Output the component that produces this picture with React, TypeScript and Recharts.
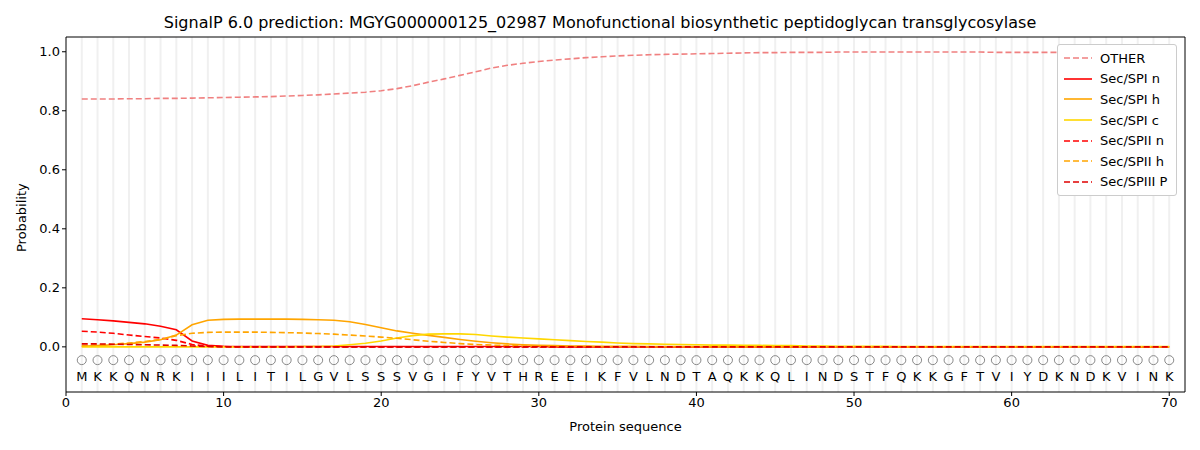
import { ComposedChart, Line, Scatter, XAxis, YAxis, ReferenceLine } from "recharts";

const residues = "MKKQNRKIIILITILGVLSSSVGIFYVTHREEIKFVLNDTAQKKQLINDSTFQKKGFTVIYDKNDKVINK".split("");

const other = [
  0.84, 0.84, 0.84, 0.841, 0.841, 0.842, 0.842, 0.843, 0.844, 0.845,
  0.846, 0.847, 0.848, 0.85, 0.852, 0.854, 0.857, 0.86, 0.863, 0.868,
  0.875, 0.885, 0.897, 0.908, 0.92, 0.932, 0.945, 0.954, 0.961, 0.967,
  0.972, 0.976, 0.98, 0.983, 0.986, 0.988, 0.99, 0.991, 0.992, 0.993,
  0.994, 0.995, 0.996, 0.997, 0.997, 0.998, 0.998, 0.998, 0.999, 0.999,
  0.999, 0.999, 0.999, 0.999, 0.999, 0.999, 0.999, 0.999, 0.998, 0.998,
  0.998, 0.998, 0.998, 0.998, 0.998, 0.998, 0.998, 0.998, 0.998, 0.998,
];
const spiN = [
  0.095, 0.092, 0.088, 0.083, 0.078, 0.07, 0.058, 0.02, 0.005, 0.002,
  0.001, 0.001, 0.001, 0.001, 0.001, 0.001, 0.001, 0.001, 0.001, 0.001,
  0.001, 0.001, 0.001, 0.001, 0.001, 0.001, 0.001, 0.001, 0.001, 0.001,
  0, 0, 0, 0, 0, 0, 0, 0, 0, 0,
  0, 0, 0, 0, 0, 0, 0, 0, 0, 0,
  0, 0, 0, 0, 0, 0, 0, 0, 0, 0,
  0, 0, 0, 0, 0, 0, 0, 0, 0, 0,
];
const spiH = [
  0.002, 0.004, 0.007, 0.011, 0.016, 0.024, 0.04, 0.075, 0.09, 0.093,
  0.094, 0.094, 0.094, 0.094, 0.093, 0.092, 0.09, 0.085, 0.076, 0.065,
  0.054, 0.046, 0.039, 0.032, 0.025, 0.019, 0.014, 0.01, 0.007, 0.005,
  0.004, 0.003, 0.003, 0.002, 0.002, 0.002, 0.001, 0.001, 0.001, 0.001,
  0, 0, 0, 0, 0, 0, 0, 0, 0, 0,
  0, 0, 0, 0, 0, 0, 0, 0, 0, 0,
  0, 0, 0, 0, 0, 0, 0, 0, 0, 0,
];
const spiC = [
  0, 0, 0, 0, 0, 0, 0, 0, 0, 0,
  0, 0, 0, 0, 0.001, 0.001, 0.003, 0.007, 0.012, 0.02,
  0.03, 0.038, 0.043, 0.044, 0.044, 0.042, 0.037, 0.033, 0.03, 0.027,
  0.024, 0.021, 0.018, 0.016, 0.013, 0.011, 0.01, 0.009, 0.008, 0.007,
  0.006, 0.006, 0.005, 0.005, 0.004, 0.004, 0.003, 0.003, 0.002, 0.002,
  0.002, 0.002, 0.001, 0.001, 0.001, 0.001, 0.001, 0.001, 0.001, 0.001,
  0.001, 0.001, 0.001, 0.001, 0.001, 0.001, 0.001, 0.001, 0.001, 0.001,
];
const spiiN = [
  0.053, 0.05, 0.046, 0.04, 0.035, 0.03, 0.022, 0.008, 0.002, 0.001,
  0, 0, 0, 0, 0, 0, 0, 0, 0, 0,
  0, 0, 0, 0, 0, 0, 0, 0, 0, 0,
  0, 0, 0, 0, 0, 0, 0, 0, 0, 0,
  0, 0, 0, 0, 0, 0, 0, 0, 0, 0,
  0, 0, 0, 0, 0, 0, 0, 0, 0, 0,
  0, 0, 0, 0, 0, 0, 0, 0, 0, 0,
];
const spiiH = [
  0.004, 0.006, 0.009, 0.013, 0.018, 0.025, 0.038, 0.046, 0.049, 0.05,
  0.05, 0.05, 0.049, 0.048, 0.047, 0.045, 0.043, 0.04, 0.037, 0.033,
  0.029, 0.024, 0.019, 0.015, 0.011, 0.008, 0.006, 0.004, 0.003, 0.002,
  0.001, 0.001, 0.001, 0, 0, 0, 0, 0, 0, 0,
  0, 0, 0, 0, 0, 0, 0, 0, 0, 0,
  0, 0, 0, 0, 0, 0, 0, 0, 0, 0,
  0, 0, 0, 0, 0, 0, 0, 0, 0, 0,
];
const spiiiP = [
  0.01, 0.01, 0.009, 0.008, 0.007, 0.006, 0.005, 0.003, 0.001, 0,
  0, 0, 0, 0, 0, 0, 0, 0, 0, 0,
  0, 0, 0, 0, 0, 0, 0, 0, 0, 0,
  0, 0, 0, 0, 0, 0, 0, 0, 0, 0,
  0, 0, 0, 0, 0, 0, 0, 0, 0, 0,
  0, 0, 0, 0, 0, 0, 0, 0, 0, 0,
  0, 0, 0, 0, 0, 0, 0, 0, 0, 0,
];

const xTicks = [0, 10, 20, 30, 40, 50, 60, 70];
const yTicks = [0, 0.2, 0.4, 0.6, 0.8, 1.0];

const data = residues.map((aa, i) => ({
  pos: i + 1,
  aa,
  marker: -0.045,
  other: other[i],
  spiN: spiN[i],
  spiH: spiH[i],
  spiC: spiC[i],
  spiiN: spiiN[i],
  spiiH: spiiH[i],
  spiiiP: spiiiP[i],
}));

const font = "DejaVu Sans";

function Residue(props: any) {
  const { cx, cy, payload } = props;
  return (
    <g>
      <circle cx={cx} cy={cy} r={4.5} fill="none" stroke="#888" strokeWidth={1} />
      <text x={cx} y={cy + 21} textAnchor="middle" fontSize={13} fontFamily={font} fill="#000">
        {payload.aa}
      </text>
    </g>
  );
}

const series = [
  { key: "other", name: "OTHER", color: "#F08080", dash: "6 3" },
  { key: "spiN", name: "Sec/SPI n", color: "#FF0000", dash: undefined },
  { key: "spiH", name: "Sec/SPI h", color: "#FFA500", dash: undefined },
  { key: "spiC", name: "Sec/SPI c", color: "#FFD700", dash: undefined },
  { key: "spiiN", name: "Sec/SPII n", color: "#FF0000", dash: "6 3" },
  { key: "spiiH", name: "Sec/SPII h", color: "#FFA500", dash: "6 3" },
  { key: "spiiiP", name: "Sec/SPIII P", color: "#E00000", dash: "6 3" },
];

function LegendBox() {
  return (
    <div
      style={{
        position: "absolute",
        top: 44,
        left: 1057,
        width: 120,
        background: "#fff",
        border: "1px solid #ccc",
        borderRadius: 3,
        padding: "3px 0 3px 6px",
        fontSize: 13,
        boxSizing: "border-box",
      }}
    >
      {series.map((s) => (
        <div key={s.key} style={{ display: "flex", alignItems: "center", height: 20.6 }}>
          <svg width={28} height={10} style={{ marginRight: 8 }}>
            <line x1={0} y1={5} x2={28} y2={5} stroke={s.color} strokeWidth={1.6} strokeDasharray={s.dash} />
          </svg>
          <span>{s.name}</span>
        </div>
      ))}
    </div>
  );
}

export default function App() {
  return (
    <div style={{ position: "relative", width: 1200, height: 450, margin: -8, background: "#fff", fontFamily: font }}>
      <ComposedChart
        width={1200}
        height={450}
        data={data}
        margin={{ top: 37, right: 15, bottom: 28, left: 10 }}
        style={{ position: "absolute", top: 0, left: 0 }}
      >
        {data.map((d) => (
          <ReferenceLine key={d.pos} x={d.pos} stroke="#f0f0f0" strokeWidth={2} />
        ))}
        <XAxis
          dataKey="pos"
          type="number"
          domain={[0, 71]}
          ticks={xTicks}
          stroke="#000"
          tick={{ fill: "#000", fontSize: 13, fontFamily: font }}
          tickSize={4}
          axisLine={false}
          height={30}
        />
        <YAxis
          type="number"
          domain={[-0.153, 1.05]}
          ticks={yTicks}
          tickFormatter={(v: number) => v.toFixed(1)}
          stroke="#000"
          tick={{ fill: "#000", fontSize: 13, fontFamily: font }}
          tickSize={4}
          width={56}
          axisLine={false}
        />
        <ReferenceLine x={0} stroke="#000" />
        <ReferenceLine x={71} stroke="#000" />
        <ReferenceLine y={-0.153} stroke="#000" />
        <ReferenceLine y={1.05} stroke="#000" />
        <Scatter dataKey="marker" shape={<Residue />} isAnimationActive={false} legendType="none" />
        {series.map((s) => (
          <Line
            key={s.key}
            dataKey={s.key}
            name={s.name}
            type="linear"
            stroke={s.color}
            strokeWidth={1.6}
            strokeDasharray={s.dash}
            dot={false}
            isAnimationActive={false}
          />
        ))}
      </ComposedChart>
      <div style={{ position: "absolute", top: 13, width: 1200, textAlign: "center", fontSize: 16 }}>
        SignalP 6.0 prediction: MGYG000000125_02987 Monofunctional biosynthetic peptidoglycan transglycosylase
      </div>
      <div style={{ position: "absolute", top: 419, left: 66, width: 1119, textAlign: "center", fontSize: 13 }}>
        Protein sequence
      </div>
      <div style={{ position: "absolute", left: 14, top: 252, transform: "rotate(-90deg)", transformOrigin: "left top", fontSize: 13, whiteSpace: "nowrap" }}>
        Probability
      </div>
      <LegendBox />
    </div>
  );
}
